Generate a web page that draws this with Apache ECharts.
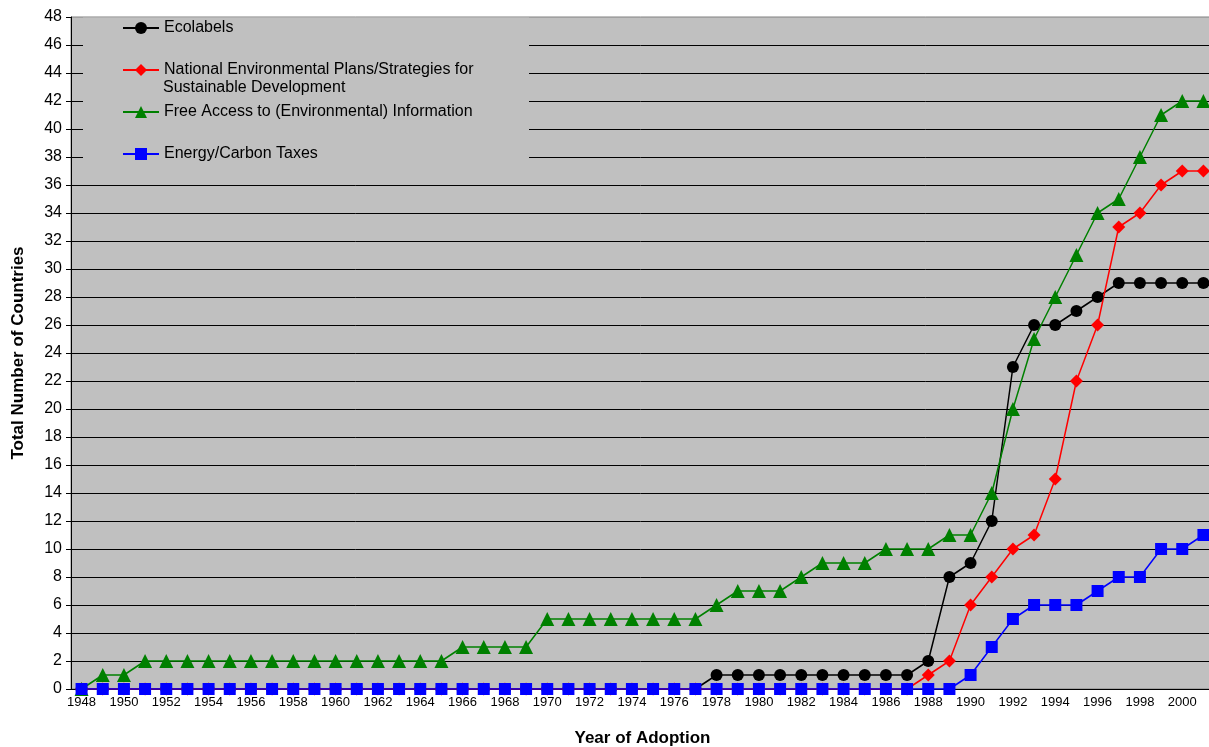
<!DOCTYPE html>
<html>
<head>
<meta charset="utf-8">
<title>Year of Adoption</title>
<script src="https://cdn.jsdelivr.net/npm/echarts@6/dist/echarts.min.js"></script>
<style>
  html, body { margin: 0; padding: 0; background: #ffffff; }
  #chart { width: 1209px; height: 747px; }
</style>
</head>
<body>
<div id="chart"></div>
<script>
// Years of adoption (one category per year)
const years = [
  '1948','1949','1950','1951','1952','1953','1954','1955','1956','1957',
  '1958','1959','1960','1961','1962','1963','1964','1965','1966','1967',
  '1968','1969','1970','1971','1972','1973','1974','1975','1976','1977',
  '1978','1979','1980','1981','1982','1983','1984','1985','1986','1987',
  '1988','1989','1990','1991','1992','1993','1994','1995','1996','1997',
  '1998','1999','2000','2001'
];

// Cumulative number of countries per instrument
const ecolabels = [
  0,0,0,0,0,0,0,0,0,0, 0,0,0,0,0,0,0,0,0,0, 0,0,0,0,0,0,0,0,0,0,
  1,1,1,1,1,1,1,1,1,1, 2,8,9,12,23,26,26,27,28,29, 29,29,29,29
];
const nationalPlans = [
  0,0,0,0,0,0,0,0,0,0, 0,0,0,0,0,0,0,0,0,0, 0,0,0,0,0,0,0,0,0,0,
  0,0,0,0,0,0,0,0,0,0, 1,2,6,8,10,11,15,22,26,33, 34,36,37,37
];
const freeAccess = [
  0,1,1,2,2,2,2,2,2,2, 2,2,2,2,2,2,2,2,3,3, 3,3,5,5,5,5,5,5,5,5,
  6,7,7,7,8,9,9,9,10,10, 10,11,11,14,20,25,28,31,34,35, 38,41,42,42
];
const energyTaxes = [
  0,0,0,0,0,0,0,0,0,0, 0,0,0,0,0,0,0,0,0,0, 0,0,0,0,0,0,0,0,0,0,
  0,0,0,0,0,0,0,0,0,0, 0,0,1,3,5,6,6,6,7,8, 8,10,10,11
];

const seriesNames = [
  'Ecolabels',
  'National Environmental Plans/Strategies for',
  'Free Access to (Environmental) Information',
  'Energy/Carbon Taxes'
];
const secondLine = 'Sustainable Development';

const FONT = '"Liberation Sans", Arial, Helvetica, sans-serif';

const chart = echarts.init(document.getElementById('chart'), null, { renderer: 'canvas' });

function lineSeries(name, data, color, symbol, size) {
  return {
    name: name,
    type: 'line',
    data: data,
    symbol: symbol,
    symbolSize: size,
    showAllSymbol: true,
    lineStyle: { color: color, width: 1.5 },
    itemStyle: { color: color },
    emphasis: { disabled: true },
    animation: false
  };
}

function legendAt(name, top) {
  return {
    data: [name],
    left: 122,
    top: top,
    padding: 0,
    itemWidth: 36,
    itemHeight: 15,
    selectedMode: false,
    textStyle: { color: '#000', fontSize: 16, fontFamily: FONT }
  };
}

const option = {
  backgroundColor: '#ffffff',
  animation: false,
  grid: {
    left: 71,
    top: 17,
    bottom: 58,
    width: 1143,
    outerBoundsMode: 'none',
    containLabel: false,
    show: true,
    backgroundColor: '#C0C0C0',
    borderColor: '#808080',
    borderWidth: 1
  },
  legend: [
    legendAt(seriesNames[0], 20),
    legendAt(seriesNames[1], 62),
    legendAt(seriesNames[2], 104),
    legendAt(seriesNames[3], 146)
  ],
  graphic: [
    {
      type: 'rect',
      z: 1,
      silent: true,
      shape: { x: 83, y: 17.5, width: 446, height: 166 },
      style: { fill: '#C0C0C0' }
    },
    {
      type: 'text',
      z: 5,
      silent: true,
      x: 163,
      y: 88,
      style: {
        text: secondLine,
        fill: '#000',
        font: '16px ' + FONT,
        textVerticalAlign: 'middle'
      }
    }
  ],
  xAxis: {
    type: 'category',
    data: years,
    boundaryGap: true,
    name: 'Year of Adoption',
    nameLocation: 'middle',
    nameGap: 41,
    nameTextStyle: { fontWeight: 'bold', fontSize: 17, color: '#000', fontFamily: FONT },
    axisLine: { lineStyle: { color: '#000', width: 1 } },
    axisTick: { interval: 0, length: 5, lineStyle: { color: '#000' } },
    axisLabel: { interval: 1, color: '#000', fontSize: 13, fontFamily: FONT, margin: 7 },
    splitLine: { show: false }
  },
  yAxis: {
    type: 'value',
    min: 0,
    max: 48,
    interval: 2,
    name: 'Total Number of Countries',
    nameLocation: 'middle',
    nameGap: 44,
    nameTextStyle: { fontWeight: 'bold', fontSize: 17, color: '#000', fontFamily: FONT },
    axisLine: { show: true, lineStyle: { color: '#000', width: 1 } },
    axisTick: { show: true, length: 5, lineStyle: { color: '#000' } },
    axisLabel: { color: '#000', fontSize: 16, fontFamily: FONT, margin: 9 },
    splitLine: { show: true, showMaxLine: false, lineStyle: { color: '#000', width: 1 } }
  },
  series: [
    lineSeries(seriesNames[0], ecolabels, '#000000', 'circle', 12),
    lineSeries(seriesNames[1], nationalPlans, '#FF0000', 'diamond', 13),
    lineSeries(seriesNames[2], freeAccess, '#008000', 'triangle', 14),
    lineSeries(seriesNames[3], energyTaxes, '#0000FF', 'rect', 12)
  ]
};

chart.setOption(option);
</script>
</body>
</html>
